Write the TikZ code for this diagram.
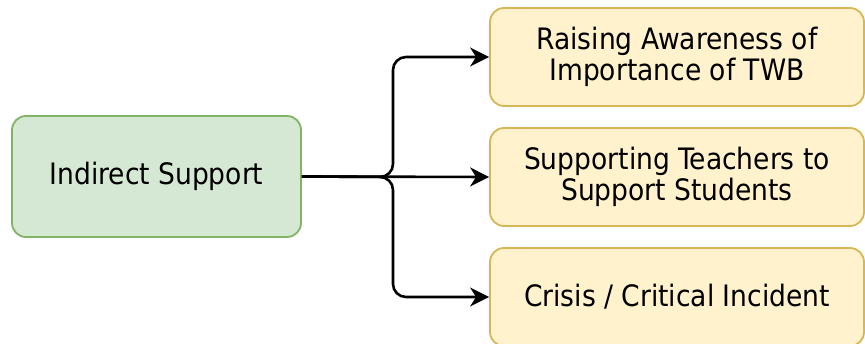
\documentclass[tikz,border=0pt]{standalone}
\usepackage{fontspec}
\setmainfont{DejaVu Sans Condensed}
\usetikzlibrary{arrows.meta}
\definecolor{gfill}{HTML}{D5E8D4}
\definecolor{gline}{HTML}{82B366}
\definecolor{yfill}{HTML}{FFF2CC}
\definecolor{yline}{HTML}{D6B656}
\tikzset{
  greenbox/.style={draw=gline, fill=gfill, line width=1.8pt, rounded corners=14pt,
    minimum width=289pt, minimum height=121pt, inner sep=0pt, align=center,
    font=\fontsize{29.5}{31}\selectfont},
  yellowbox/.style={draw=yline, fill=yfill, line width=1.8pt, rounded corners=14pt,
    minimum width=374pt, minimum height=98pt, inner sep=0pt, align=center,
    font=\fontsize{29.5}{31}\selectfont},
  conn/.style={draw=black, line width=2.6pt, rounded corners=13pt,
    -{Stealth[length=19pt,width=19pt,inset=6pt]}}
}
\begin{document}
\begin{tikzpicture}[x=1pt,y=-1pt]
\useasboundingbox (0,0) rectangle (865,344);
\node[greenbox] (ind) at (156.5,176.5) {Indirect Support};
\node[yellowbox] (r1) at (677,57) {Raising Awareness of\\Importance of TWB};
\node[yellowbox] (r2) at (677,177) {Supporting Teachers to\\Support Students};
\node[yellowbox] (r3) at (677,297) {Crisis / Critical Incident};
\coordinate (b) at (393,177);
\draw[conn] (ind.east) -- (b) |- (r1.west);
\draw[conn] (ind.east) -- (r2.west);
\draw[conn] (ind.east) -- (b) |- (r3.west);
\end{tikzpicture}
\end{document}
